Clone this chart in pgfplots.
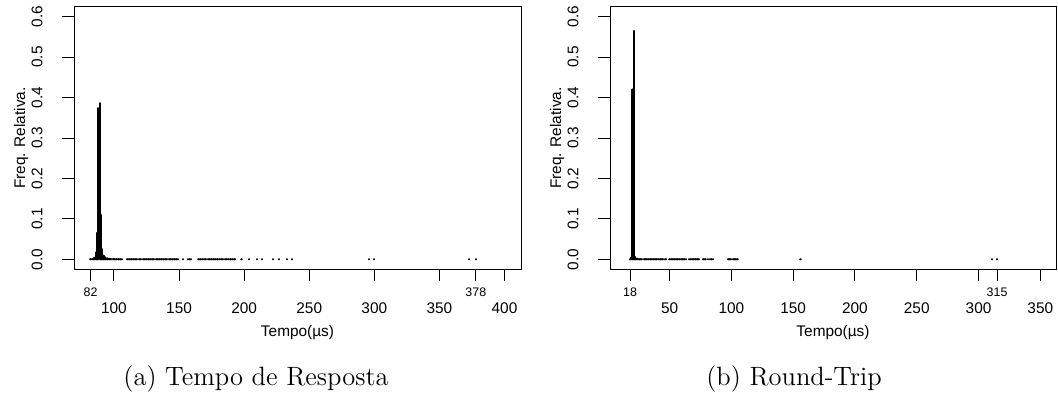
\documentclass[border=0pt]{standalone}
\usepackage{fontspec}
\usepackage{pgfplots}
\pgfplotsset{compat=1.18}
\newfontfamily\rf{Liberation Sans}
\newcommand{\tickfont}{\rf\fontsize{7.7}{9}\selectfont}
\newcommand{\smalltick}[1]{{\rf\fontsize{6.2}{7}\selectfont\raisebox{8.5pt}{#1}}}

\begin{document}
\begin{tikzpicture}
    \useasboundingbox (0,0) rectangle (529pt,201.5pt);
    \pgfplotsset{
        every axis/.append style={
            scale only axis,
            width=223.5pt,
            height=131pt,
            anchor=south west,
            ymin=-0.024, ymax=0.624,
            ytick={0,0.1,0.2,0.3,0.4,0.5,0.6},
            xtick pos=bottom,
            ytick pos=left,
            tick align=outside,
            major tick length=6pt,
            axis line style={line width=0.5pt},
            every tick/.style={black, line width=0.5pt},
            /pgf/number format/assume math mode=true,
            tick label style={font=\tickfont},
            xticklabel style={anchor=base, yshift=-16pt},
            yticklabel style={xshift=-12.5pt, rotate=90, anchor=center,
                /pgf/number format/fixed, /pgf/number format/fixed zerofill,
                /pgf/number format/precision=1},
            every axis x label/.style={at={(axis description cs:0.5,-0.2424)}, anchor=center, font=\tickfont},
            every axis y label/.style={at={(axis description cs:-0.1185,0.5)}, rotate=90, anchor=center, font=\tickfont},
            xlabel={Tempo(µs)},
            ylabel={Freq. Relativa.},
        },
        hist/.style={ycomb, black, line width=1.1pt, line cap=round, mark=none},
    }

    % (a) Tempo de Resposta
    \begin{axis}[
        at={(37pt,67pt)},
        xmin=69.3, xmax=412.7,
        xtick={82,100,150,200,250,300,350,378,400},
        xticklabels={\smalltick{82},100,150,200,250,300,350,\smalltick{378},400},
    ]
    \addplot[hist] coordinates {
        (82,0.0005) (83,0.0003) (84,0.001) (85,0.004) (86,0.017) (87,0.065)
        (88,0.374) (89,0.386) (90,0.11) (91,0.025) (92,0.009) (93,0.005)
        (94,0.003) (95,0.002) (96,0.0015) (97,0.001) (98,0.0008) (99,0.0007)
        (100,0.0006) (101,0.0005) (102,0.0005) (103,0.0004) (104,0.0004)
        (105,0.0003) (106,0.0003)
        (110,0.0002) (111,0.0002) (112,0.0002) (113,0.0002) (114,0.0002)
        (115,0.0002) (116,0.0002) (117,0.0002) (118,0.0002) (119,0.0002)
        (120,0.0002) (121,0.0002) (122,0.0002) (123,0.0002) (124,0.0002)
        (125,0.0002) (126,0.0002) (127,0.0002) (128,0.0002) (129,0.0002)
        (130,0.0002) (131,0.0002) (132,0.0002) (133,0.0002) (134,0.0002)
        (135,0.0002) (136,0.0002) (137,0.0002) (138,0.0002) (139,0.0002)
        (140,0.0002) (141,0.0002) (142,0.0002) (143,0.0002) (144,0.0002)
        (145,0.0002) (146,0.0002) (147,0.0002) (148,0.0002) (149,0.0002)
        (153,0.0001) (157,0.0001) (158,0.0001) (159,0.0001)
        (165,0.0001) (166,0.0001) (167,0.0001) (168,0.0001) (169,0.0001)
        (170,0.0001) (171,0.0001) (172,0.0001) (173,0.0001) (174,0.0001)
        (175,0.0001) (176,0.0001) (177,0.0001) (178,0.0001) (179,0.0001)
        (180,0.0001) (181,0.0001) (182,0.0001) (183,0.0001) (184,0.0001)
        (185,0.0001) (186,0.0001) (187,0.0001) (188,0.0001) (189,0.0001)
        (190,0.0001) (191,0.0001) (192,0.0001) (193,0.0001)
        (198,0.0001) (204,0.0001) (210,0.0001) (214,0.0001) (222,0.0001)
        (227,0.0001) (233,0.0001) (237,0.0001)
        (296,0.0001) (300,0.0001) (373,0.0001) (378,0.0001)
    };
    \end{axis}

    % (b) Round-Trip
    \begin{axis}[
        at={(305pt,67pt)},
        width=223pt,
        xmin=1.8, xmax=362.7,
        xtick={18,50,100,150,200,250,300,315,350},
        xticklabels={\smalltick{18},50,100,150,200,250,300,\smalltick{315},350},
    ]
    \addplot[hist] coordinates {
        (18,0.0005) (19,0.004) (20,0.42) (21,0.565) (22,0.006) (23,0.002)
        (24,0.001) (25,0.0004) (26,0.0004) (27,0.0003) (28,0.0003) (29,0.0003)
        (30,0.0003) (31,0.0003) (32,0.0003) (33,0.0003) (34,0.0003) (35,0.0003)
        (36,0.0003) (37,0.0003) (38,0.0003) (39,0.0003) (40,0.0003) (41,0.0003)
        (42,0.0003) (43,0.0003) (44,0.0003) (45,0.0003) (46,0.0003) (47,0.0003)
        (50,0.0002) (51,0.0002) (52,0.0002) (53,0.0002) (54,0.0002) (55,0.0002)
        (56,0.0002) (57,0.0002) (58,0.0002) (59,0.0002) (60,0.0002) (61,0.0002)
        (62,0.0002) (63,0.0002)
        (66,0.0002) (67,0.0002) (68,0.0002) (69,0.0002) (70,0.0002) (71,0.0002)
        (72,0.0002) (73,0.0002) (74,0.0002)
        (77,0.0002) (78,0.0002) (79,0.0002) (81,0.0002) (83,0.0002) (84,0.0002)
        (85,0.0002)
        (97,0.0002) (98,0.0002) (99,0.0002) (100,0.0002) (101,0.0002)
        (102,0.0002) (103,0.0002) (104,0.0002) (105,0.0002)
        (156,0.0001) (311,0.0001) (315,0.0001)
    };
    \end{axis}

    \node[font=\fontsize{13.25}{16}\selectfont] at (128pt,12pt) {(a) Tempo de Resposta};
    \node[font=\fontsize{13.25}{16}\selectfont] at (397pt,12pt) {(b) Round-Trip};
\end{tikzpicture}
\end{document}
